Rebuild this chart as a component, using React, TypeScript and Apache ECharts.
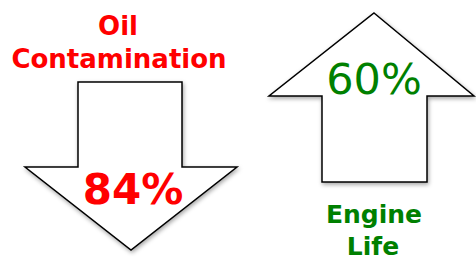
import React, { useEffect, useRef } from "react";
import * as echarts from "echarts";

const metricTitles: string[][] = [["Oil", "Contamination"], ["Engine", "Life"]];
const metricValues: number[] = [84, 60];
const metricDirections: string[] = ["down", "up"];
const metricColors: string[] = ["#ff0000", "#008000"];

export default function App() {
  const ref = useRef<HTMLDivElement>(null);
  useEffect(() => {
    if (!ref.current) return;
    const chart = echarts.init(ref.current, undefined, { renderer: "svg" });
    const arrowStyle = {
      fill: "#ffffff",
      stroke: "#000000",
      lineWidth: 1.5,
      shadowBlur: 4,
      shadowColor: "rgba(0,0,0,0.35)",
      shadowOffsetX: 1,
      shadowOffsetY: 2,
    };
    const downArrow = {
      type: "polygon",
      shape: {
        points: [
          [78, 82], [182, 82], [182, 167], [237, 167], [131, 250], [25, 167], [78, 167],
        ],
      },
      style: arrowStyle,
    };
    const upArrow = {
      type: "polygon",
      shape: {
        points: [
          [374, 13], [474, 96], [427, 96], [427, 182], [322, 182], [322, 96], [269, 96],
        ],
      },
      style: arrowStyle,
    };
    const font = "DejaVu Sans, Verdana, Tahoma, sans-serif";
    const txt = (s: string, x: number, y: number, size: number, color: string, weight: string) => ({
      type: "text",
      x,
      y,
      style: {
        text: s,
        fill: color,
        font: `${weight} ${size}px ${font}`,
        align: "center",
        verticalAlign: "middle",
      },
      z: 10,
    });
    const i0 = metricDirections.indexOf("down");
    const i1 = metricDirections.indexOf("up");
    chart.setOption({
      animation: false,
      backgroundColor: "#ffffff",
      graphic: [
        downArrow,
        upArrow,
        txt(metricTitles[i0][0], 118, 26, 26, metricColors[i0], "bold"),
        txt(metricTitles[i0][1], 119, 59, 26, metricColors[i0], "bold"),
        txt(metricValues[i0] + "%", 133, 189, 42, metricColors[i0], "bold"),
        txt(metricValues[i1] + "%", 374, 79, 43, metricColors[i1], "normal"),
        txt(metricTitles[i1][0], 374, 214, 25, metricColors[i1], "bold"),
        txt(metricTitles[i1][1], 373, 246, 25, metricColors[i1], "bold"),
      ],
    });
    return () => chart.dispose();
  }, []);
  return (
    <div
      ref={ref}
      style={{ position: "absolute", left: 0, top: 0, width: 476, height: 265 }}
    />
  );
}
